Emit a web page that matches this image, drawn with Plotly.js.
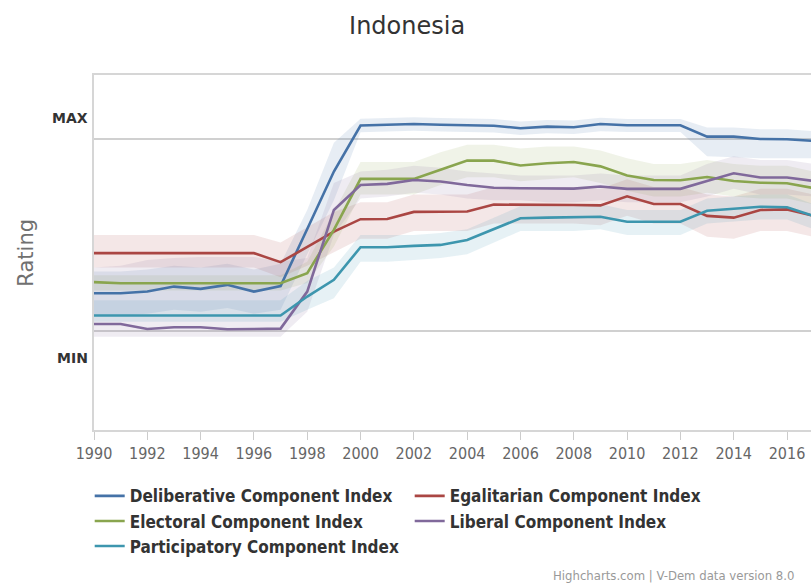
<!DOCTYPE html>
<html>
<head>
<meta charset="utf-8">
<script src="https://cdn.plot.ly/plotly-3.0.1.min.js"></script>
<style>
  html, body { margin: 0; padding: 0; background: #ffffff; }
  #chart { width: 811px; height: 586px; }
</style>
</head>
<body>
<div id="chart"></div>
<script>
// V-Dem component indices for Indonesia, 1990-2017 (point estimate + interval)
const years = [1990, 1991, 1992, 1993, 1994, 1995, 1996, 1997, 1998, 1999,
               2000, 2001, 2002, 2003, 2004, 2005, 2006, 2007, 2008, 2009,
               2010, 2011, 2012, 2013, 2014, 2015, 2016, 2017];

const deliberative     = [0.196, 0.196, 0.205, 0.231, 0.219, 0.240, 0.205, 0.234, 0.531, 0.830,
                          1.070, 1.073, 1.078, 1.074, 1.071, 1.069, 1.056, 1.064, 1.061, 1.078,
                          1.071, 1.071, 1.071, 1.012, 1.012, 1.000, 0.998, 0.990];
const deliberativeHigh = [0.31, 0.31, 0.32, 0.34, 0.33, 0.35, 0.32, 0.35, 0.63, 0.98,
                          1.105, 1.108, 1.113, 1.109, 1.106, 1.104, 1.091, 1.099, 1.096, 1.110,
                          1.104, 1.104, 1.104, 1.06, 1.06, 1.05, 1.05, 1.04];
const deliberativeLow  = [0.08, 0.08, 0.09, 0.11, 0.10, 0.12, 0.09, 0.11, 0.40, 0.68,
                          1.035, 1.038, 1.043, 1.039, 1.036, 1.034, 1.021, 1.029, 1.026, 1.040,
                          1.036, 1.036, 1.036, 0.91, 0.905, 0.90, 0.90, 0.90];

const egalitarian      = [0.405, 0.405, 0.405, 0.405, 0.405, 0.405, 0.405, 0.358, 0.439, 0.517,
                          0.582, 0.583, 0.620, 0.620, 0.622, 0.658, 0.658, 0.656, 0.656, 0.654,
                          0.701, 0.661, 0.661, 0.599, 0.590, 0.630, 0.633, 0.599];
const egalitarianHigh  = [0.50, 0.50, 0.50, 0.50, 0.50, 0.50, 0.50, 0.46, 0.54, 0.62,
                          0.67, 0.67, 0.71, 0.71, 0.71, 0.75, 0.75, 0.75, 0.75, 0.74,
                          0.79, 0.75, 0.75, 0.71, 0.70, 0.74, 0.74, 0.71];
const egalitarianLow   = [0.33, 0.33, 0.33, 0.33, 0.33, 0.33, 0.33, 0.28, 0.34, 0.41,
                          0.48, 0.48, 0.52, 0.52, 0.52, 0.56, 0.56, 0.56, 0.56, 0.55,
                          0.60, 0.56, 0.56, 0.49, 0.48, 0.52, 0.52, 0.49];

const electoral        = [0.254, 0.248, 0.248, 0.248, 0.248, 0.248, 0.248, 0.248, 0.301, 0.526,
                          0.792, 0.792, 0.792, 0.839, 0.887, 0.887, 0.862, 0.873, 0.880, 0.857,
                          0.810, 0.786, 0.785, 0.802, 0.781, 0.772, 0.769, 0.744];
const electoralHigh    = [0.29, 0.29, 0.29, 0.29, 0.29, 0.29, 0.29, 0.29, 0.36, 0.62,
                          0.88, 0.88, 0.88, 0.93, 0.97, 0.97, 0.95, 0.96, 0.96, 0.94,
                          0.90, 0.87, 0.87, 0.89, 0.87, 0.86, 0.86, 0.83];
const electoralLow     = [0.21, 0.21, 0.21, 0.21, 0.21, 0.21, 0.21, 0.21, 0.25, 0.44,
                          0.71, 0.71, 0.71, 0.76, 0.80, 0.80, 0.78, 0.79, 0.80, 0.77,
                          0.73, 0.70, 0.70, 0.72, 0.70, 0.69, 0.69, 0.66];

const liberal          = [0.036, 0.036, 0.010, 0.019, 0.019, 0.009, 0.010, 0.012, 0.205, 0.630,
                          0.760, 0.766, 0.786, 0.778, 0.760, 0.746, 0.743, 0.741, 0.741, 0.752,
                          0.740, 0.740, 0.740, 0.781, 0.821, 0.799, 0.799, 0.781];
const liberalHigh      = [0.33, 0.34, 0.37, 0.38, 0.385, 0.385, 0.385, 0.36, 0.38, 0.77,
                          0.83, 0.84, 0.86, 0.85, 0.83, 0.82, 0.81, 0.81, 0.81, 0.82,
                          0.81, 0.81, 0.81, 0.87, 0.91, 0.89, 0.89, 0.87];
const liberalLow       = [-0.03, -0.03, -0.03, -0.03, -0.03, -0.03, -0.03, -0.03, 0.10, 0.50,
                          0.69, 0.70, 0.72, 0.71, 0.69, 0.68, 0.68, 0.67, 0.67, 0.68,
                          0.67, 0.67, 0.67, 0.70, 0.74, 0.71, 0.71, 0.70];

const participatory    = [0.080, 0.080, 0.080, 0.080, 0.080, 0.080, 0.080, 0.080, 0.179, 0.266,
                          0.436, 0.436, 0.443, 0.448, 0.474, 0.529, 0.587, 0.590, 0.592, 0.595,
                          0.569, 0.569, 0.569, 0.626, 0.637, 0.647, 0.644, 0.599];
const participatoryHigh = [0.16, 0.16, 0.16, 0.16, 0.16, 0.16, 0.16, 0.16, 0.26, 0.33,
                           0.50, 0.50, 0.50, 0.51, 0.53, 0.59, 0.65, 0.65, 0.65, 0.66,
                           0.63, 0.63, 0.63, 0.69, 0.70, 0.71, 0.71, 0.66];
const participatoryLow  = [0.048, 0.048, 0.048, 0.048, 0.048, 0.048, 0.048, 0.048, 0.11, 0.17,
                           0.36, 0.36, 0.37, 0.38, 0.40, 0.46, 0.52, 0.52, 0.52, 0.53,
                           0.50, 0.50, 0.50, 0.56, 0.57, 0.58, 0.58, 0.53];

const seriesNames = ['Deliberative Component Index', 'Egalitarian Component Index',
                     'Electoral Component Index', 'Liberal Component Index',
                     'Participatory Component Index'];
const seriesColors = ['#4572A7', '#AA4643', '#89A54E', '#80699B', '#3D96AE'];

const series = [
  { mid: deliberative,  hi: deliberativeHigh,  lo: deliberativeLow },
  { mid: egalitarian,   hi: egalitarianHigh,   lo: egalitarianLow },
  { mid: electoral,     hi: electoralHigh,     lo: electoralLow },
  { mid: liberal,       hi: liberalHigh,       lo: liberalLow },
  { mid: participatory, hi: participatoryHigh, lo: participatoryLow }
];

function rgba(hex, a) {
  const n = parseInt(hex.slice(1), 16);
  return 'rgba(' + (n >> 16) + ',' + ((n >> 8) & 255) + ',' + (n & 255) + ',' + a + ')';
}

const traces = [];
// interval bands first, so every line sits above all shaded areas
series.forEach((s, i) => {
  traces.push({ x: years, y: s.lo, type: 'scatter', mode: 'lines',
                line: { width: 0, color: seriesColors[i] }, hoverinfo: 'skip', showlegend: false });
  traces.push({ x: years, y: s.hi, type: 'scatter', mode: 'lines',
                line: { width: 0, color: seriesColors[i] }, fill: 'tonexty',
                fillcolor: rgba(seriesColors[i], 0.13), hoverinfo: 'skip', showlegend: false });
});
series.forEach((s, i) => {
  traces.push({ x: years, y: s.mid, type: 'scatter', mode: 'lines', name: seriesNames[i],
                line: { color: seriesColors[i], width: 2.6 } });
});

const frame = '#d6d6d6';
const layout = {
  width: 811, height: 586,
  margin: { l: 94, r: 0, t: 75, b: 156 },
  paper_bgcolor: '#ffffff', plot_bgcolor: '#ffffff',
  title: { text: 'Indonesia', font: { family: 'DejaVu Sans', size: 24, color: '#333333' },
           x: 0.502, xref: 'container', xanchor: 'center', y: 0.957, yref: 'container', yanchor: 'middle' },
  xaxis: {
    range: [1990, 2016.9], tickmode: 'linear', tick0: 1990, dtick: 2,
    ticks: 'outside', ticklen: 8, tickwidth: 1, tickcolor: '#cccccc',
    showgrid: false, zeroline: false, showline: true, mirror: true,
    linecolor: frame, linewidth: 2,
    tickfont: { family: 'DejaVu Sans Condensed', size: 16, color: '#666666' }
  },
  yaxis: {
    range: [-0.516, 1.333], showticklabels: false, ticks: '', showgrid: false,
    zeroline: false, showline: true, linecolor: frame, linewidth: 2
  },
  shapes: [
    { type: 'line', xref: 'paper', yref: 'y', x0: 0, x1: 1, y0: 1, y1: 1,
      line: { color: '#d0d0d0', width: 2 }, layer: 'below' },
    { type: 'line', xref: 'paper', yref: 'y', x0: 0, x1: 1, y0: 0, y1: 0,
      line: { color: '#d0d0d0', width: 2 }, layer: 'below' }
  ],
  annotations: [
    { text: 'MAX', xref: 'paper', yref: 'y', x: -0.006, y: 1.11, xanchor: 'right', yanchor: 'middle',
      showarrow: false, font: { family: 'DejaVu Sans', size: 14, color: '#333333', weight: 'bold' } },
    { text: 'MIN', xref: 'paper', yref: 'y', x: -0.006, y: -0.14, xanchor: 'right', yanchor: 'middle',
      showarrow: false, font: { family: 'DejaVu Sans', size: 14, color: '#333333', weight: 'bold' } },
    { text: 'Rating', xref: 'paper', yref: 'paper', x: -0.096, y: 0.5, xanchor: 'center', yanchor: 'middle',
      textangle: -90, showarrow: false, font: { family: 'DejaVu Sans', size: 21, color: '#707070' } },
    { text: 'Highcharts.com | V-Dem data version 8.0', xref: 'paper', yref: 'paper',
      x: 0.638, y: -0.411, xanchor: 'left', yanchor: 'middle', showarrow: false,
      font: { family: 'DejaVu Sans Condensed', size: 13, color: '#999999' } }
  ],
  showlegend: true,
  legend: {
    orientation: 'h', traceorder: 'normal', x: -0.006, y: -0.136, xanchor: 'left', yanchor: 'top',
    entrywidth: 275, entrywidthmode: 'pixels', itemwidth: 30,
    bgcolor: 'rgba(0,0,0,0)', borderwidth: 0,
    font: { family: 'DejaVu Sans Condensed', size: 17, color: '#333333', weight: 'bold' }
  },
  hovermode: false
};

Plotly.newPlot('chart', traces, layout, { displayModeBar: false, staticPlot: true });
</script>
</body>
</html>
